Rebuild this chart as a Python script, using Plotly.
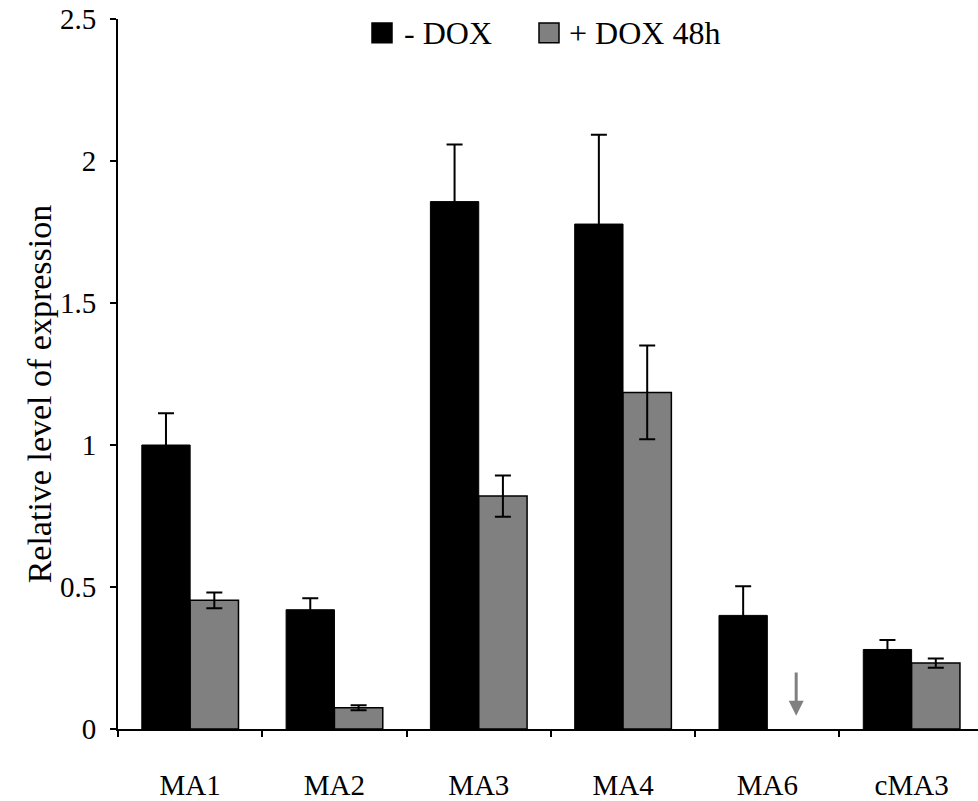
import plotly.graph_objects as go

# Expression data
categories = ["MA1", "MA2", "MA3", "MA4", "MA6", "cMA3"]
minus_dox = [1.0, 0.42, 1.857, 1.778, 0.40, 0.28]
minus_dox_err = [0.112, 0.04, 0.201, 0.314, 0.103, 0.033]
plus_dox = [0.453, 0.075, 0.82, 1.185, None, 0.232]
plus_dox_err = [0.028, 0.009, 0.073, 0.165, None, 0.016]
y_ticks = [0, 0.5, 1, 1.5, 2, 2.5]
y_tick_text = ["0", "0.5", "1", "1.5", "2", "2.5"]

FONT = "Liberation Serif"
W, H = 978, 801
ML, MR, MT, MB = 118, 0, 19, 67
PW, PH = W - ML - MR, H - MT - MB

def px_x(p):
    return (p - ML) / PW

def px_y(p):
    return (H - MB - p) / PH

xpos = list(range(len(categories)))

fig = go.Figure()
fig.add_trace(go.Bar(
    x=xpos, y=minus_dox, name="- DOX",
    marker=dict(color="#000000", line=dict(color="#000000", width=1)),
    error_y=dict(type="data", array=minus_dox_err, color="#000000",
                 thickness=2, width=8),
))
fig.add_trace(go.Bar(
    x=xpos, y=plus_dox, name="+ DOX 48h",
    marker=dict(color="#808080", line=dict(color="#000000", width=1.5)),
    error_y=dict(type="data", array=[e if e is not None else 0 for e in plus_dox_err],
                 color="#000000", thickness=2, width=8),
))

# Arrow marking undetected expression
fig.add_annotation(
    x=4.2, y=0.047, ax=4.2, ay=0.204, xref="x", yref="y", axref="x", ayref="y",
    showarrow=True, arrowhead=2, arrowsize=1, arrowwidth=3, arrowcolor="#808080",
    text="",
)

# Legend
legend_items = [("- DOX", "#000000", 372, 402), ("+ DOX 48h", "#808080", 539, 567)]
for label, color, sq_x, tx in legend_items:
    fig.add_shape(type="rect", xref="paper", yref="paper",
                  x0=px_x(sq_x), x1=px_x(sq_x + 20), y0=px_y(43), y1=px_y(23),
                  fillcolor=color, line=dict(color="#000000", width=1.5))
    fig.add_annotation(x=px_x(tx), y=px_y(33), xref="paper", yref="paper",
                       text=label, showarrow=False, xanchor="left", yanchor="middle",
                       font=dict(family=FONT, size=32, color="#000000"))

# Y-axis title
fig.add_annotation(x=px_x(39), y=px_y(397), xref="paper", yref="paper",
                   text="Relative level of expression", textangle=-90,
                   showarrow=False, xanchor="center", yanchor="middle",
                   font=dict(family=FONT, size=34, color="#000000"))

fig.update_layout(
    width=W, height=H,
    margin=dict(l=ML, r=MR, t=MT, b=MB, pad=0),
    paper_bgcolor="white", plot_bgcolor="white",
    barmode="group", bargap=0.33, bargroupgap=0,
    showlegend=False,
    font=dict(family=FONT, size=29, color="#000000"),
)
fig.update_xaxes(
    range=[-0.5, 5.46], tickvals=xpos, ticktext=categories,
    ticks="", showgrid=False, zeroline=False,
    showline=True, linecolor="#000000", linewidth=2,
    tickfont=dict(family=FONT, size=29, color="#000000"),
    ticklabelstandoff=29,
    minor=dict(tickvals=[i - 0.5 for i in range(len(categories) + 1)],
               ticks="outside", ticklen=6, tickwidth=2, tickcolor="#000000",
               showgrid=False),
)
fig.update_yaxes(
    range=[0, 2.5], tickvals=y_ticks, ticktext=y_tick_text,
    ticks="outside", ticklen=6, tickwidth=2, tickcolor="#000000",
    showgrid=False, zeroline=False,
    showline=True, linecolor="#000000", linewidth=2,
    tickfont=dict(family=FONT, size=29, color="#000000"),
    ticklabelstandoff=8,
)

fig.write_html("out.html")
